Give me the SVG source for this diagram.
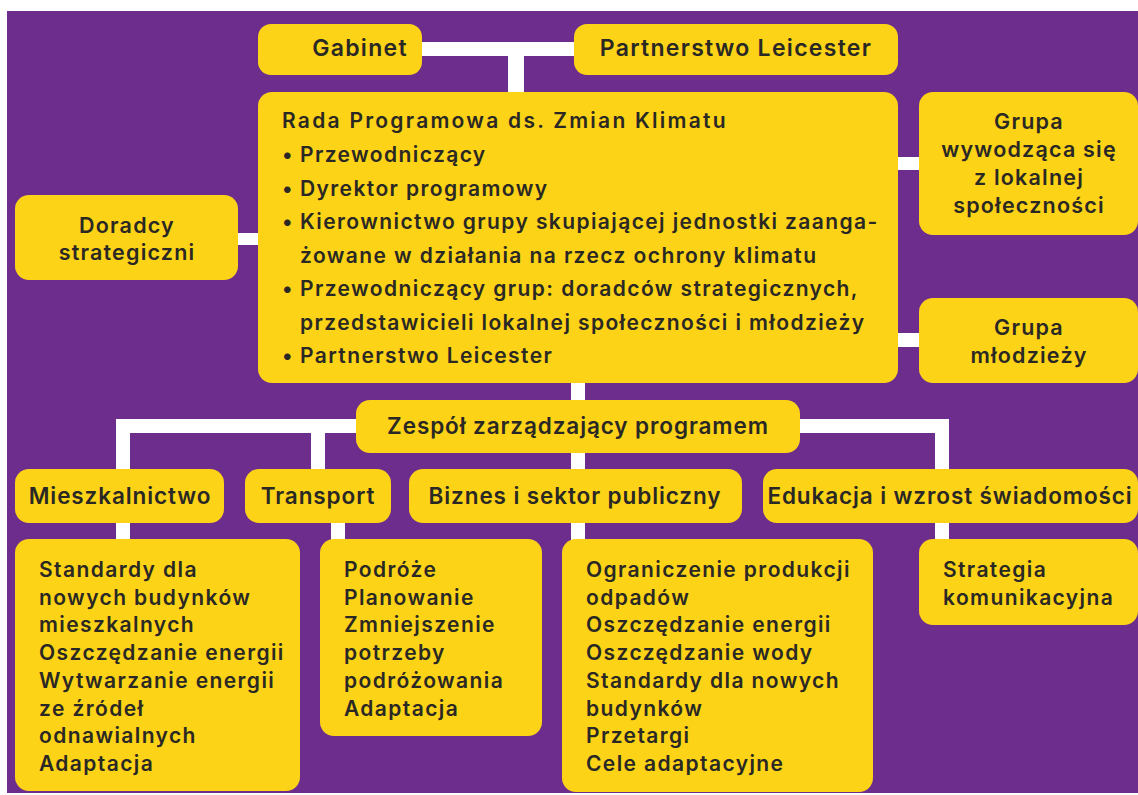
<svg xmlns="http://www.w3.org/2000/svg" width="1138" height="795" viewBox="0 0 1138 795">
<style>
.box{fill:#FDD317;}
.t{font-family:Inter,"Liberation Sans",sans-serif;font-weight:600;fill:#2A2824;}
.h{font-size:22.5px;text-anchor:middle;letter-spacing:0.9px;}
.top{font-size:23px;text-anchor:middle;letter-spacing:1.3px;}
.s{font-size:21.5px;text-anchor:middle;letter-spacing:1.2px;}
.b{font-size:21px;letter-spacing:1.4px;}
.c{fill:#FFFFFF;}
</style>
<rect x="0" y="0" width="1138" height="795" fill="#FFFFFF"/>
<rect x="7" y="11" width="1131" height="782" fill="#6C2D8D"/>
<g id="connectors">
<rect class="c" x="420" y="42" width="156" height="14"/>
<rect class="c" x="508" y="42" width="16" height="52"/>
<rect class="c" x="236" y="233" width="24" height="12"/>
<rect class="c" x="896" y="157" width="25" height="13"/>
<rect class="c" x="896" y="333" width="25" height="14"/>
<rect class="c" x="571" y="380" width="14" height="162"/>
<rect class="c" x="116" y="419" width="833" height="14"/>
<rect class="c" x="116" y="419" width="14" height="52"/>
<rect class="c" x="311" y="419" width="14" height="52"/>
<rect class="c" x="935" y="419" width="14" height="52"/>
<rect class="c" x="116" y="520" width="14" height="22"/>
<rect class="c" x="331" y="520" width="14" height="22"/>
<rect class="c" x="935" y="520" width="14" height="22"/>
</g>
<g id="gabinet">
<rect class="box" x="258" y="24" width="164" height="51" rx="13"/>
<text class="t top" x="360" y="56">Gabinet</text>
</g>
<g id="partnerstwo">
<rect class="box" x="574" y="24" width="324" height="51" rx="13"/>
<text class="t top" x="736" y="56">Partnerstwo Leicester</text>
</g>
<g id="rada">
<rect class="box" x="258" y="92" width="640" height="291" rx="14"/>
<text class="t b">
<tspan x="282" y="128" textLength="445">Rada Programowa ds. Zmian Klimatu</tspan>
<tspan x="282" y="162">•</tspan><tspan x="300" y="162">Przewodniczący</tspan>
<tspan x="282" y="195.5">•</tspan><tspan x="300" y="195.5">Dyrektor programowy</tspan>
<tspan x="282" y="229">•</tspan><tspan x="300" y="229">Kierownictwo grupy skupiającej jednostki zaanga-</tspan>
<tspan x="300" y="262.5">żowane w działania na rzecz ochrony klimatu</tspan>
<tspan x="282" y="296">•</tspan><tspan x="300" y="296">Przewodniczący grup: doradców strategicznych,</tspan>
<tspan x="300" y="329.5">przedstawicieli lokalnej społeczności i młodzieży</tspan>
<tspan x="282" y="363">•</tspan><tspan x="300" y="363">Partnerstwo Leicester</tspan>
</text>
</g>
<g id="doradcy">
<rect class="box" x="15" y="195" width="223" height="85" rx="14"/>
<text class="t s"><tspan x="127" y="233">Doradcy</tspan><tspan x="127" y="260">strategiczni</tspan></text>
</g>
<g id="grupa-lokalna">
<rect class="box" x="919" y="92" width="219" height="143" rx="14"/>
<text class="t s"><tspan x="1029" y="129">Grupa</tspan><tspan x="1029" y="157">wywodząca się</tspan><tspan x="1029" y="185">z lokalnej</tspan><tspan x="1029" y="213">społeczności</tspan></text>
</g>
<g id="grupa-mlodziezy">
<rect class="box" x="919" y="298" width="219" height="85" rx="14"/>
<text class="t s"><tspan x="1029" y="335">Grupa</tspan><tspan x="1029" y="363">młodzieży</tspan></text>
</g>
<g id="zespol">
<rect class="box" x="356" y="400" width="444" height="53" rx="14"/>
<text class="t h" x="578" y="434">Zespół zarządzający programem</text>
</g>
<g id="mieszkalnictwo">
<rect class="box" x="15" y="469" width="209" height="54" rx="14"/>
<text class="t h" x="120" y="504">Mieszkalnictwo</text>
</g>
<g id="transport">
<rect class="box" x="245" y="469" width="146" height="54" rx="14"/>
<text class="t h" x="318" y="504">Transport</text>
</g>
<g id="biznes">
<rect class="box" x="409" y="469" width="333" height="54" rx="14"/>
<text class="t h" x="575" y="504">Biznes i sektor publiczny</text>
</g>
<g id="edukacja">
<rect class="box" x="763" y="469" width="375" height="54" rx="14"/>
<text class="t h" x="950" y="504">Edukacja i wzrost świadomości</text>
</g>
<g id="mieszkalnictwo-lista">
<rect class="box" x="15" y="539" width="285" height="252" rx="14"/>
<text class="t b">
<tspan x="39" y="577">Standardy dla</tspan>
<tspan x="39" y="604.7">nowych budynków</tspan>
<tspan x="39" y="632.4">mieszkalnych</tspan>
<tspan x="39" y="660.1">Oszczędzanie energii</tspan>
<tspan x="39" y="687.8">Wytwarzanie energii</tspan>
<tspan x="39" y="715.5">ze źródeł</tspan>
<tspan x="39" y="743.2">odnawialnych</tspan>
<tspan x="39" y="770.9">Adaptacja</tspan>
</text>
</g>
<g id="transport-lista">
<rect class="box" x="320" y="539" width="222" height="197" rx="14"/>
<text class="t b">
<tspan x="344" y="577">Podróże</tspan>
<tspan x="344" y="604.7">Planowanie</tspan>
<tspan x="344" y="632.4">Zmniejszenie</tspan>
<tspan x="344" y="660.1">potrzeby</tspan>
<tspan x="344" y="687.8">podróżowania</tspan>
<tspan x="344" y="715.5">Adaptacja</tspan>
</text>
</g>
<g id="biznes-lista">
<rect class="box" x="562" y="539" width="311" height="253" rx="14"/>
<text class="t b">
<tspan x="586" y="577">Ograniczenie produkcji</tspan>
<tspan x="586" y="604.7">odpadów</tspan>
<tspan x="586" y="632.4">Oszczędzanie energii</tspan>
<tspan x="586" y="660.1">Oszczędzanie wody</tspan>
<tspan x="586" y="687.8">Standardy dla nowych</tspan>
<tspan x="586" y="715.5">budynków</tspan>
<tspan x="586" y="743.2">Przetargi</tspan>
<tspan x="586" y="770.9">Cele adaptacyjne</tspan>
</text>
</g>
<g id="edukacja-lista">
<rect class="box" x="919" y="539" width="219" height="86" rx="14"/>
<text class="t b">
<tspan x="943" y="577">Strategia</tspan>
<tspan x="943" y="604.7">komunikacyjna</tspan>
</text>
</g>
</svg>
